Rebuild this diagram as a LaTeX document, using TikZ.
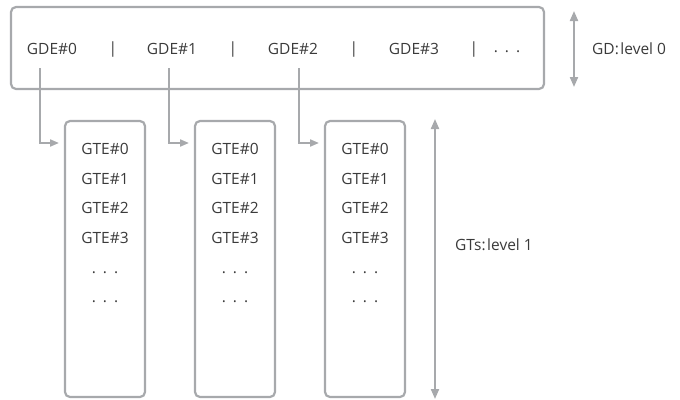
\documentclass[tikz,border=0pt]{standalone}
\usepackage{fontspec}
\setmainfont{Open Sans}
\usetikzlibrary{arrows.meta}
\definecolor{linegray}{HTML}{A7A9AC}
\definecolor{txtgray}{HTML}{3A3A3A}
\tikzset{
  box/.style={draw=linegray, line width=2.2pt, rounded corners=5pt, inner sep=0pt},
  lbl/.style={text=txtgray, font=\fontsize{15.5}{19}\selectfont, inner sep=0pt, anchor=center},
  conn/.style={draw=linegray, line width=2pt, -{Triangle[length=9pt,width=7pt]}},
  dbl/.style={draw=linegray, line width=2pt, {Triangle[length=10pt,width=8pt]}-{Triangle[length=10pt,width=8pt]}},
}
\newcommand{\mydots}{.\hspace{0.45em}.\hspace{0.45em}.}
\begin{document}
\begin{tikzpicture}[x=1pt,y=-1pt]
\useasboundingbox (0,0) rectangle (680,399);
% top box
\node[box, minimum width=533pt, minimum height=82pt] (gd) at (277.5,48) {};
\node[lbl] (gde0) at (52,49) {GDE\#0};
\node[lbl] (sep0) at (113,49) {|};
\node[lbl] (gde1) at (172,49) {GDE\#1};
\node[lbl] (sep1) at (233,49) {|};
\node[lbl] (gde2) at (293,49) {GDE\#2};
\node[lbl] (sep2) at (354,49) {|};
\node[lbl] (gde3) at (414,49) {GDE\#3};
\node[lbl] (sep3) at (474,49) {|};
\node[lbl] (gdd) at (507,52) {\mydots};
% columns
\foreach \i/\cx in {0/105,1/235,2/365}{
  \node[box, minimum width=80pt, minimum height=276pt] (gt\i) at (\cx,259) {};
  \node[lbl] (gt\i e0) at (\cx,149) {GTE\#0};
  \node[lbl] (gt\i e1) at (\cx,179) {GTE\#1};
  \node[lbl] (gt\i e2) at (\cx,208) {GTE\#2};
  \node[lbl] (gt\i e3) at (\cx,238) {GTE\#3};
  \node[lbl] (gt\i d0) at (\cx,273) {\mydots};
  \node[lbl] (gt\i d1) at (\cx,302) {\mydots};
}
% connectors
\coordinate (s0) at (40,68);
\coordinate (s1) at (169,68);
\coordinate (s2) at (299,68);
\coordinate (e0) at (59,143);
\coordinate (e1) at (189,143);
\coordinate (e2) at (319,143);
\draw[conn] (s0) |- (e0);
\draw[conn] (s1) |- (e1);
\draw[conn] (s2) |- (e2);
% level arrows
\coordinate (a0t) at (574,11);
\coordinate (a0b) at (574,87);
\draw[dbl] (a0t) -- (a0b);
\node[lbl, anchor=west] (lv0) at (592,49) {GD:\hspace{0.1em}level 0};
\coordinate (a1t) at (435,119);
\coordinate (a1b) at (435,399);
\draw[dbl] (a1t) -- (a1b);
\node[lbl, anchor=west] (lv1) at (455,245) {GTs:\hspace{0.1em}level 1};
\end{tikzpicture}
\end{document}
